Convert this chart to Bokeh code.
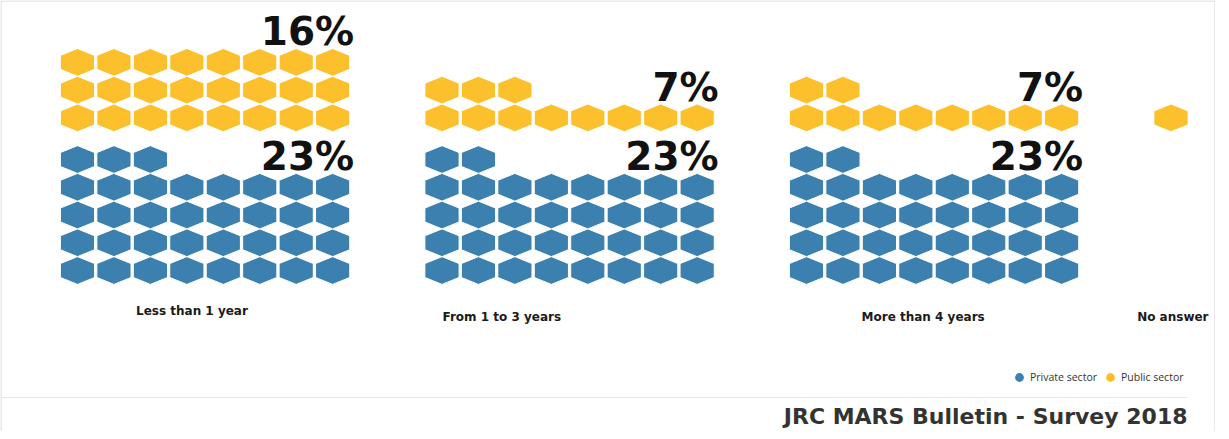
import numpy as np
from bokeh.plotting import figure
from bokeh.models import Range1d, Label, BoxAnnotation, Legend, LegendItem
from bokeh.core.properties import value
from bokeh.embed import file_html
from bokeh.resources import INLINE

# ---------------- data ----------------
categories = ["Less than 1 year", "From 1 to 3 years", "More than 4 years", "No answer"]
private_hexes = [35, 34, 34, 0]
public_hexes = [24, 11, 10, 1]
private_pct = ["23%", "23%", "23%", ""]
public_pct = ["16%", "7%", "7%", ""]
series_names = ["Private sector", "Public sector"]
title_text = "JRC MARS Bulletin - Survey 2018"

# ---------------- layout / style ----------------
BLUE = "#3b80ae"
YELLOW = "#fcc02c"
COLS = 8
GROUP_STEP = 10
W, H = 1215, 431
CX, CY = 36.45, 27.75          # pixels per column / per row
x0 = -(85 - 8) / CX
y_top = (278 - 8) / CY

HW, HH, HS = 0.469, 0.5, 0.25
hex_dx = [0, HW, HW, 0, -HW, -HW]
hex_dy = [HH, HS, -HS, -HH, -HS, HS]

pub_base = np.ceil(max(private_hexes) / COLS) + 0.5
cat_dx = [3.14, 1.64, 3.2, 0.05]
cat_y = [-1.477, -1.693, -1.693, -1.693]


def cells(n, g, base):
    xs, ys = [], []
    for i in range(n):
        xs.append(g * GROUP_STEP + i % COLS)
        ys.append(base + i // COLS)
    return xs, ys


p = figure(width=W, height=H,
           x_range=Range1d(x0, x0 + W / CX), y_range=Range1d(y_top - H / CY, y_top),
           output_backend="svg", toolbar_location=None, min_border=0,
           x_axis_type=None, y_axis_type=None)
p.grid.visible = False
p.outline_line_color = None
p.background_fill_color = "white"
p.border_fill_color = "white"

legend_renderers = []
for counts, base, color in [(private_hexes, 0.0, BLUE), (public_hexes, pub_base, YELLOW)]:
    cx_all, cy_all = [], []
    for g, n in enumerate(counts):
        cx, cy = cells(n, g, base)
        cx_all += cx
        cy_all += cy
    xs = [[x + d for d in hex_dx] for x in cx_all]
    ys = [[y + d for d in hex_dy] for y in cy_all]
    p.patches(xs, ys, fill_color=color, line_color="white", line_width=1)
    r = p.scatter(cx_all, cy_all, size=0, marker="circle", fill_color=color, line_color=None)
    legend_renderers.append(r)

# percentage labels
lx, ly, lt = [], [], []
for counts, pcts, base in [(private_hexes, private_pct, 0.0), (public_hexes, public_pct, pub_base)]:
    for g, (n, t) in enumerate(zip(counts, pcts)):
        if t:
            lx.append(g * GROUP_STEP + COLS - 1 + HW + 0.12)
            ly.append(base + n // COLS + 3 / CY)
            lt.append(t)
p.text(x=lx, y=ly, text=lt, text_align="right", text_baseline="alphabetic",
       text_font=value("DejaVu Sans"), text_font_style="bold", text_font_size="39px",
       text_color="#111111")

# category labels
p.text(x=[g * GROUP_STEP + d for g, d in enumerate(cat_dx)], y=cat_y, text=categories,
       text_align="center", text_baseline="middle",
       text_font=value("DejaVu Sans"), text_font_style="bold", text_font_size="12px",
       text_color="#1a1a1a")

# title
p.add_layout(Label(x=1187, y=15, x_units="screen", y_units="screen", text=title_text,
                   text_align="right", text_baseline="alphabetic",
                   text_font="DejaVu Sans", text_font_style="bold", text_font_size="22px",
                   text_color="#333333"))

# borders and separator
border = "#d4d4d4"
for l, r_, b, t in [(0, 1, 0, H), (0, W, H - 1, H), (W - 1, W, 0, H)]:
    p.add_layout(BoxAnnotation(left=l, right=r_, bottom=b, top=t,
                               left_units="screen", right_units="screen",
                               bottom_units="screen", top_units="screen",
                               fill_color=border, fill_alpha=1, line_color=None))
p.add_layout(BoxAnnotation(left=0, right=1187, bottom=33.5, top=34.5,
                           left_units="screen", right_units="screen",
                           bottom_units="screen", top_units="screen",
                           fill_color="#e6e6e6", fill_alpha=1, line_color=None))

legend = Legend(items=[LegendItem(label=series_names[0], renderers=[legend_renderers[0]]),
                       LegendItem(label=series_names[1], renderers=[legend_renderers[1]])],
                orientation="horizontal", location=(1008, 43),
                glyph_width=22, glyph_height=22, label_standoff=0, spacing=2,
                padding=0, margin=0, border_line_color=None, background_fill_alpha=0,
                label_text_font="Open Sans", label_text_font_size="10.5px",
                label_text_color="#333333", label_height=12)
p.add_layout(legend)

open("out.html", "w").write(file_html(p, INLINE))
